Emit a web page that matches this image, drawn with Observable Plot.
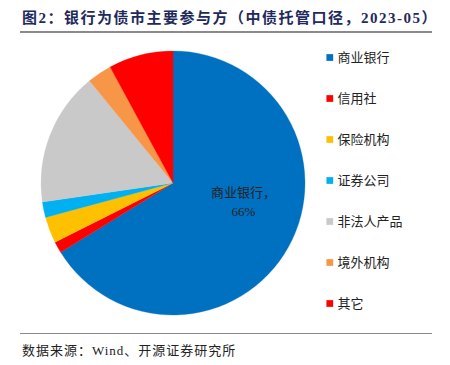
<!DOCTYPE html>
<html><head><meta charset="utf-8">
<script src="https://cdn.jsdelivr.net/npm/d3@7"></script>
<script src="https://cdn.jsdelivr.net/npm/@observablehq/plot@0.6"></script>
<style>
html,body{margin:0;padding:0;background:#fff;}
body{width:450px;height:365px;overflow:hidden;position:relative;font-family:"Liberation Serif","Noto Sans CJK SC",serif;}
#title{position:absolute;left:22px;top:6px;font-weight:bold;font-size:15px;color:#1f2a5c;letter-spacing:1.5px;white-space:nowrap;font-family:"Liberation Serif","Noto Sans CJK SC",serif;}
#tline{position:absolute;left:20px;top:31px;width:412px;height:0;border-top:2px solid #8a8a8a;}
#chart{position:absolute;left:0;top:34px;}
#bline{position:absolute;left:20px;top:333px;width:412px;height:0;border-top:1.5px solid #8a8a8a;}
#source{position:absolute;left:22px;top:340px;font-size:13px;letter-spacing:1px;color:#222;white-space:nowrap;}
</style></head>
<body>
<div id="title">图2：银行为债市主要参与方（中债托管口径，2023-05）</div>
<div id="tline"></div>
<div id="chart"></div>
<div id="bline"></div>
<div id="source">数据来源：Wind、开源证券研究所</div>
<script>
const categories = ["商业银行","信用社","保险机构","证券公司","非法人产品","境外机构","其它"];
const shares = [66.2, 1.4, 3.2, 1.9, 16.4, 3.0, 7.9];
const colors = ["#0070C0","#FF0000","#FFC000","#00B0F0","#C9C9C9","#F79646","#FF0000"];
const labelText = "商业银行，\n66%";

const data = categories.map((cat, i) => ({cat, share: shares[i]}));

const W = 450, H = 298;
const CX = 173, CY = 149, R = 132;

const pieMark = (index, scales, values, dims) => {
  const arcs = d3.pie().sort(null).value(d => d.share)(data);
  const arc = d3.arc().innerRadius(0).outerRadius(R);
  const g = d3.create("svg:g").attr("transform", `translate(${CX},${CY})`);
  g.selectAll("path").data(arcs).join("path")
    .attr("d", arc)
    .attr("fill", d => scales.color(d.data.cat))
    .attr("stroke", d => scales.color(d.data.cat))
    .attr("stroke-width", 0.3);
  return g.node();
};

const chart = Plot.plot({
  width: W, height: H,
  margin: 0,
  style: {background: "#fff", overflow: "visible"},
  x: {type: "linear", domain: [0, W], range: [0, W], axis: null},
  y: {type: "point", domain: categories, range: [22.7, 269.3], padding: 0, axis: null},
  color: {type: "ordinal", domain: categories, range: colors},
  marks: [
    pieMark,
    Plot.dot(data, {x: 329.3, y: "cat", fill: "cat", symbol: "square", r: 3.8, stroke: null}),
    Plot.text(data, {x: 337, y: "cat", text: "cat", textAnchor: "start", fontSize: 13, fill: "#222",
      fontFamily: "Liberation Serif, Noto Sans CJK SC, serif", style: "letter-spacing:1.5px"}),
    Plot.text([labelText], {x: 243, text: d => d, dy: 17, fontSize: 13, lineHeight: 1.45, fill: "#222",
      fontFamily: "Liberation Serif, Noto Sans CJK SC, serif"})
  ]
});
document.getElementById("chart").appendChild(chart);
</script>
</body></html>
